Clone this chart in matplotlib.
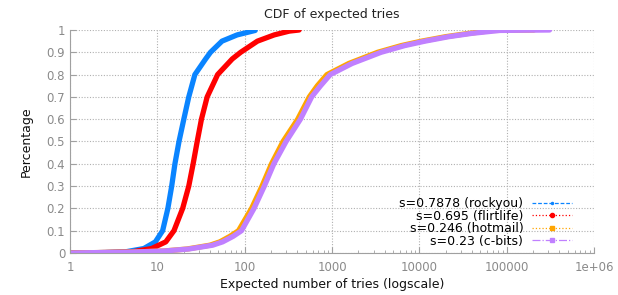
import matplotlib
matplotlib.use("Agg")
import matplotlib.pyplot as plt
from matplotlib.lines import Line2D
from matplotlib.ticker import LogLocator, FixedLocator, NullFormatter

# CDF points (x = expected tries, y = cumulative share)
rockyou_x = [1, 2.5, 4.3, 7, 9.5, 11.5, 13.2, 14.6, 15.9, 17.7, 20.1, 22.9, 26.9, 35.7, 40.6, 55, 82, 132]
rockyou_y = [0, 0.002, 0.005, 0.02, 0.05, 0.1, 0.2, 0.3, 0.4, 0.5, 0.6, 0.7, 0.8, 0.87, 0.9, 0.95, 0.978, 0.998]

flirtlife_x = [1, 2.5, 5.1, 8.6, 12.5, 15.5, 19.5, 22.9, 25.7, 28.6, 32, 37.2, 46.4, 49, 72, 90, 140, 218, 324, 420]
flirtlife_y = [0, 0.002, 0.005, 0.02, 0.05, 0.1, 0.2, 0.3, 0.4, 0.5, 0.6, 0.7, 0.78, 0.8, 0.87, 0.9, 0.95, 0.978, 0.995, 1.0]

hotmail_x = [1, 5, 12, 22, 40, 52, 68, 85, 120, 158, 203, 275, 405, 550, 680, 875, 1560, 3330, 6200, 10600, 20000, 37000, 69000, 205000]
hotmail_y = [0, 0.004, 0.009, 0.018, 0.035, 0.05, 0.075, 0.1, 0.2, 0.3, 0.4, 0.5, 0.6, 0.7, 0.75, 0.8, 0.85, 0.9, 0.93, 0.95, 0.97, 0.985, 0.998, 1.0]

cbits_x = [1, 5, 12, 23, 43, 56, 74, 92, 128, 168, 216, 298, 435, 585, 740, 955, 1700, 3650, 6800, 11600, 21700, 40000, 83000, 310000]
cbits_y = [0, 0.004, 0.009, 0.018, 0.035, 0.05, 0.075, 0.1, 0.2, 0.3, 0.4, 0.5, 0.6, 0.7, 0.75, 0.8, 0.85, 0.9, 0.93, 0.95, 0.97, 0.985, 0.998, 1.0]

labels = ["s=0.7878 (rockyou)", "s=0.695 (flirtlife)", "s=0.246 (hotmail)", "s=0.23 (c-bits)"]
colors = ["#0a84ff", "#ff0000", "#ffa500", "#c080ff"]
styles = [(0, (3, 1.5)), ":", ":", "-."]
marks = [".", "o", "s", "s"]

x_ticks = [1, 10, 100, 1000, 10000, 100000, 1000000]
x_ticklabels = ["1", "10", "100", "1000", "10000", "100000", "1e+06"]
y_ticks = [0, 0.1, 0.2, 0.3, 0.4, 0.5, 0.6, 0.7, 0.8, 0.9, 1]
y_ticklabels = ["0", "0.1", "0.2", "0.3", "0.4", "0.5", "0.6", "0.7", "0.8", "0.9", "1"]

series = [(rockyou_x, rockyou_y), (flirtlife_x, flirtlife_y),
          (hotmail_x, hotmail_y), (cbits_x, cbits_y)]

fig = plt.figure(figsize=(6.18, 2.95), dpi=100)
ax = fig.add_axes([0.1133, 0.1424, 0.8478, 0.7559])

for (xs, ys), c in zip(series, colors):
    ax.plot(xs, ys, color=c, linewidth=3.8,
            solid_joinstyle="round", solid_capstyle="round")

ax.set_xscale("log")
ax.set_xlim(1, 1e6)
ax.set_ylim(0, 1)
ax.xaxis.set_major_locator(FixedLocator(x_ticks))
ax.set_xticklabels(x_ticklabels)
ax.xaxis.set_minor_locator(LogLocator(base=10, subs=range(2, 10), numticks=20))
ax.xaxis.set_minor_formatter(NullFormatter())
ax.set_yticks(y_ticks)
ax.set_yticklabels(y_ticklabels)

ax.grid(True, which="major", color="#b0b0b0", linestyle=(0, (1, 1.5)), linewidth=0.8)
ax.set_axisbelow(True)
for side in ["top", "right"]:
    ax.spines[side].set_visible(False)
for side in ["left", "bottom"]:
    ax.spines[side].set_color("#a0a0a0")
ax.tick_params(which="both", direction="in", colors="#a0a0a0", labelcolor="#8a8a8a",
               labelsize=8.5, top=False, right=False)
ax.tick_params(which="major", length=4)
ax.tick_params(which="minor", length=2)
ax.tick_params(axis="x", pad=6)

ax.set_title("CDF of expected tries", fontsize=9, color="#222222", pad=9)
ax.set_xlabel("Expected number of tries (logscale)", fontsize=9, color="#111111", labelpad=3)
ax.set_ylabel("Percentage", fontsize=9, color="#111111", labelpad=10)

handles = [Line2D([0, 0.5, 1], [0, 0, 0], color=c, linestyle=s, linewidth=0.9, marker=m,
                  markersize=3, markevery=[1]) for c, s, m in zip(colors, styles, marks)]
ax.legend(handles, labels, loc="lower right", bbox_to_anchor=(0.975, -0.015),
          frameon=False, markerfirst=False, alignment="right", fontsize=9,
          handlelength=3.2, handletextpad=0.7, labelspacing=-0.05, borderpad=0.2)

fig.savefig("out.png", dpi=100)
